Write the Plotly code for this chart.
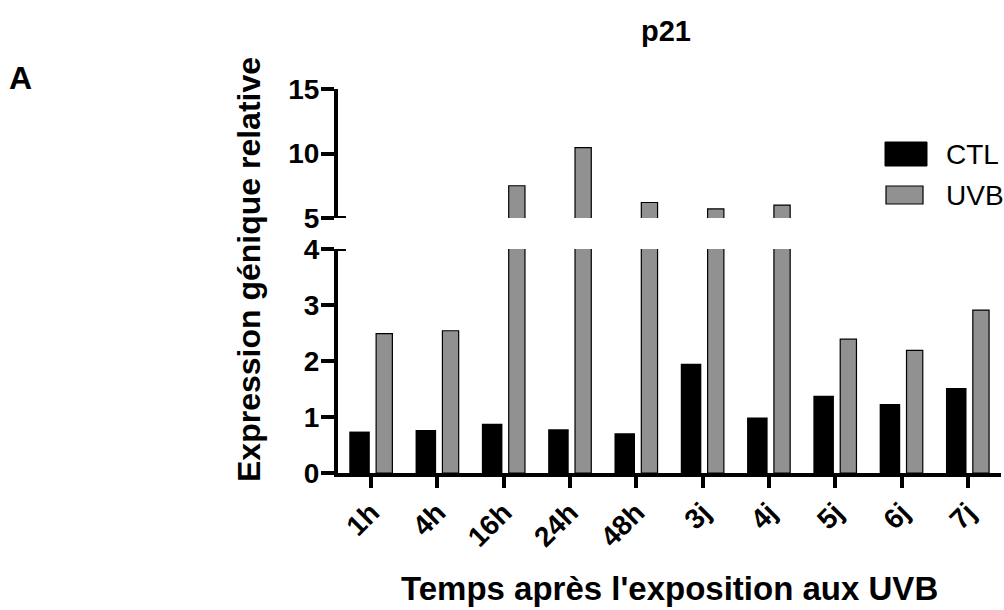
import plotly.graph_objects as go

# ---- data ----
categories = ["1h", "4h", "16h", "24h", "48h", "3j", "4j", "5j", "6j", "7j"]
ctl_values = [0.74, 0.77, 0.88, 0.78, 0.71, 1.95, 0.99, 1.38, 1.23, 1.52]
uvb_values = [2.49, 2.54, 7.5, 10.45, 6.2, 5.7, 6.0, 2.39, 2.19, 2.91]
lower_ticks = [0, 1, 2, 3, 4]
upper_ticks = [5, 10, 15]
series_names = ["CTL", "UVB"]

W, H = 1004, 610
FONT = "Liberation Sans, Arial, sans-serif"
GRAY = "#919191"


def px(x):
    return x / W


def py(y):
    return 1 - y / H


fig = go.Figure()

for yref in ["y", "y2"]:
    fig.add_trace(go.Bar(
        x=categories, y=ctl_values, name=series_names[0], yaxis=yref,
        marker=dict(color="black", line=dict(color="black", width=0)),
        offset=-0.33, width=0.31, showlegend=False, hoverinfo="x+y+name",
    ))
    fig.add_trace(go.Bar(
        x=categories, y=uvb_values, name=series_names[1], yaxis=yref,
        marker=dict(color=GRAY, line=dict(color="black", width=1.2)),
        offset=0.075, width=0.245, showlegend=False, hoverinfo="x+y+name",
    ))

tickfont = dict(family=FONT, size=28, color="black", weight="bold")

fig.update_layout(
    width=W, height=H,
    margin=dict(l=0, r=0, t=0, b=0, pad=0, autoexpand=False),
    paper_bgcolor="white", plot_bgcolor="white",
    barmode="overlay",
    showlegend=False,
    font=dict(family=FONT, color="black"),
    xaxis=dict(
        domain=[px(338), px(1001)], anchor="y", automargin=False,
        range=[-0.5, 9.5], type="category",
        showline=True, linecolor="black", linewidth=4,
        ticks="outside", ticklen=11, tickwidth=4, tickcolor="black",
        ticklabelstandoff=-3,
        tickangle=-45, tickfont=tickfont, showgrid=False, zeroline=False,
    ),
    yaxis=dict(
        domain=[py(473), py(249)], anchor="x", automargin=False,
        range=[0, 4], tickvals=lower_ticks,
        showline=True, linecolor="black", linewidth=4,
        ticks="outside", ticklen=13, tickwidth=4, tickcolor="black",
        ticklabelstandoff=-4,
        tickfont=tickfont, showgrid=False, zeroline=False,
    ),
    yaxis2=dict(
        domain=[py(218), py(89)], anchor="x", automargin=False,
        range=[5, 15], tickvals=upper_ticks,
        showline=True, linecolor="black", linewidth=4,
        ticks="outside", ticklen=13, tickwidth=4, tickcolor="black",
        ticklabelstandoff=-4,
        tickfont=tickfont, showgrid=False, zeroline=False,
    ),
)

# axis-break marks (short tick extensions to the right of the axis line)
for yr, yv in [("y", 4), ("y2", 5)]:
    fig.add_shape(type="line", xref="x domain", yref=yr,
                  x0=-0.02, x1=0.012, y0=yv, y1=yv,
                  line=dict(color="black", width=4))

# manual legend
fig.add_shape(type="rect", xref="paper", yref="paper",
              x0=px(885), x1=px(927), y0=py(166), y1=py(142),
              fillcolor="black", line=dict(color="black", width=1))
fig.add_shape(type="rect", xref="paper", yref="paper",
              x0=px(886), x1=px(923), y0=py(204), y1=py(186),
              fillcolor=GRAY, line=dict(color="black", width=1.2))
fig.add_annotation(text=series_names[0], xref="paper", yref="paper",
                   x=px(944), y=py(155), xanchor="left", yanchor="middle",
                   showarrow=False,
                   font=dict(family=FONT, size=28, color="black"))
fig.add_annotation(text=series_names[1], xref="paper", yref="paper",
                   x=px(944), y=py(195), xanchor="left", yanchor="middle",
                   showarrow=False,
                   font=dict(family=FONT, size=28, color="black"))

# titles
fig.add_annotation(text="p21", xref="paper", yref="paper",
                   x=px(666), y=py(31), xanchor="center", yanchor="middle",
                   showarrow=False,
                   font=dict(family=FONT, size=29, color="black", weight="bold"))
fig.add_annotation(text="A", xref="paper", yref="paper",
                   x=px(20), y=py(78), xanchor="center", yanchor="middle",
                   showarrow=False,
                   font=dict(family=FONT, size=32, color="black", weight="bold"))
fig.add_annotation(text="Temps après l'exposition aux UVB", xref="paper", yref="paper",
                   x=px(669), y=py(588), xanchor="center", yanchor="middle",
                   showarrow=False,
                   font=dict(family=FONT, size=33, color="black", weight="bold"))
fig.add_annotation(text="Expression génique relative", xref="paper", yref="paper",
                   x=px(249), y=py(270), xanchor="center", yanchor="middle",
                   textangle=-90, showarrow=False,
                   font=dict(family=FONT, size=32, color="black", weight="bold"))

fig.write_html("out.html")
